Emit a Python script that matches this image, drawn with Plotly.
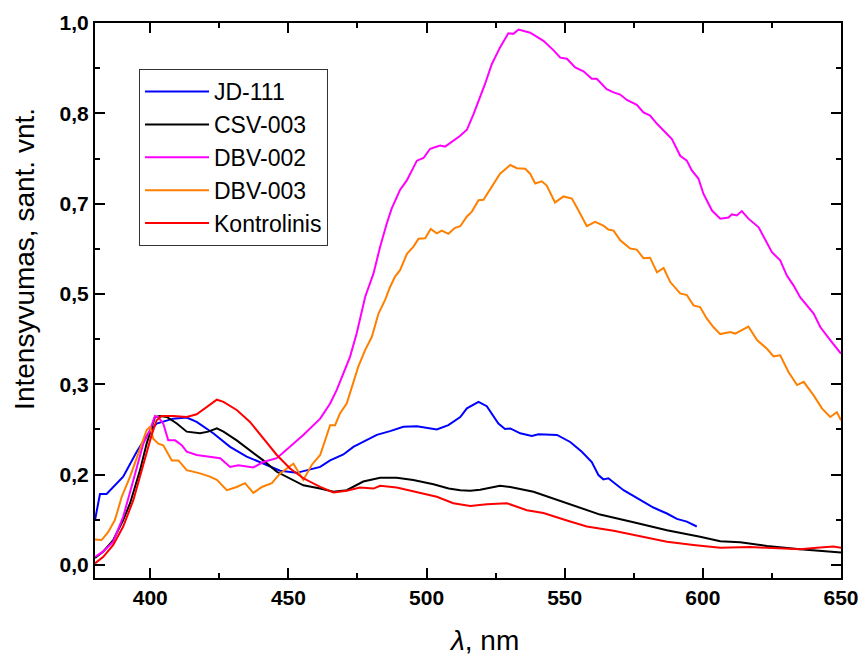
import plotly.graph_objects as go

# ---------------- data ----------------
jd111_x = [380, 381.8, 384.2, 390.2, 395.1, 399.3, 402.3, 408.3, 413.2, 416.8, 422.8, 428.9, 434.9,
           440.9, 447.0, 453.0, 461.5, 465.1, 469.9, 473.5, 477.1, 482.0, 486.8, 491.6, 496.5, 501.3,
           503.7, 507.9, 512.2, 514.6, 518.8, 521.8, 526.0, 528.4, 530.3, 533.9, 538.1, 540.5, 547.2,
           552.0, 556.2, 559.8, 562.2, 564.0, 565.8, 571.3, 577.3, 582.1, 587.0, 590.6, 594.2, 597.8]
jd111_y = [0.083, 0.131, 0.131, 0.163, 0.209, 0.243, 0.261, 0.270, 0.272, 0.264, 0.243, 0.218, 0.200,
           0.187, 0.174, 0.170, 0.181, 0.193, 0.204, 0.218, 0.227, 0.240, 0.247, 0.255, 0.256, 0.252,
           0.250, 0.258, 0.273, 0.289, 0.301, 0.293, 0.261, 0.251, 0.252, 0.243, 0.238, 0.241, 0.240,
           0.227, 0.209, 0.190, 0.166, 0.158, 0.160, 0.138, 0.120, 0.106, 0.095, 0.085, 0.080, 0.071]

csv003_x = [380, 383.0, 386.6, 390.2, 392.7, 396.3, 398.7, 401.7, 403.5, 406.0, 409.6, 413.2, 418.0,
            421.0, 424.1, 426.5, 431.3, 436.1, 440.9, 445.8, 450.6, 455.4, 461.5, 466.3, 471.1, 477.1,
            483.2, 489.2, 495.2, 502.5, 508.0, 512.2, 515.8, 519.4, 526.6, 530.3, 538.7, 547.2, 553.2,
            562.8, 574.9, 587.0, 599.0, 606.3, 613.5, 623.2, 635.2, 644.9, 650]
csv003_y = [0.013, 0.025, 0.046, 0.083, 0.114, 0.175, 0.224, 0.273, 0.275, 0.273, 0.261, 0.246, 0.243,
            0.246, 0.252, 0.246, 0.230, 0.212, 0.193, 0.172, 0.160, 0.147, 0.141, 0.135, 0.138, 0.154,
            0.161, 0.161, 0.157, 0.149, 0.141, 0.138, 0.137, 0.139, 0.146, 0.144, 0.135, 0.120, 0.109,
            0.093, 0.079, 0.064, 0.052, 0.044, 0.042, 0.035, 0.029, 0.025, 0.023]

dbv002_x = [380, 383.0, 386.6, 390.2, 393.9, 397.5, 399.9, 401.7, 402.9, 404.7, 406.5, 409.0, 411.4,
            413.2, 416.8, 421.6, 425.3, 428.9, 431.9, 437.3, 440.9, 445.8, 450.6, 455.4, 461.5, 465.1,
            467.5, 469.9, 472.3, 474.7, 477.8, 480.8, 483.2, 485.6, 487.4, 490.4, 492.9, 496.5, 498.9,
            501.3, 504.9, 506.7, 509.7, 512.2, 514.6, 517.0, 521.2, 523.6, 526.6, 529.6, 531.4, 533.3,
            537.5, 542.3, 545.9, 548.4, 550.8, 553.8, 556.8, 559.8, 561.6, 565.2, 567.7, 570.1, 572.5,
            576.1, 578.5, 580.9, 583.4, 587.0, 588.8, 591.8, 594.2, 596.0, 598.4, 600.2, 603.3, 606.3,
            609.3, 610.5, 612.3, 614.1, 616.5, 620.2, 622.6, 625.0, 628.0, 630.4, 632.8, 635.2, 640.1,
            642.5, 646.1, 650]
dbv002_y = [0.015, 0.025, 0.043, 0.089, 0.157, 0.224, 0.249, 0.275, 0.273, 0.261, 0.230, 0.230, 0.221,
            0.209, 0.203, 0.200, 0.197, 0.181, 0.184, 0.180, 0.190, 0.197, 0.218, 0.240, 0.270, 0.298,
            0.323, 0.353, 0.384, 0.427, 0.495, 0.538, 0.587, 0.630, 0.658, 0.692, 0.710, 0.746, 0.751,
            0.768, 0.774, 0.772, 0.783, 0.792, 0.803, 0.832, 0.888, 0.924, 0.955, 0.981, 0.980, 0.988,
            0.982, 0.967, 0.950, 0.936, 0.934, 0.918, 0.911, 0.897, 0.897, 0.878, 0.872, 0.868, 0.858,
            0.849, 0.835, 0.829, 0.814, 0.795, 0.786, 0.755, 0.746, 0.728, 0.713, 0.685, 0.654, 0.639,
            0.641, 0.647, 0.645, 0.653, 0.639, 0.623, 0.599, 0.577, 0.562, 0.534, 0.516, 0.494, 0.464,
            0.439, 0.415, 0.390]

dbv003_x = [380, 382.4, 384.8, 387.2, 389.7, 392.7, 395.7, 398.7, 399.9, 401.1, 402.9, 404.7, 407.8,
            410.2, 413.2, 418.0, 421.6, 424.1, 427.7, 431.3, 434.3, 437.3, 440.4, 444.0, 447.0, 451.8,
            455.4, 458.5, 461.5, 463.3, 465.1, 466.9, 468.7, 471.1, 473.5, 475.3, 477.8, 480.2, 482.6,
            485.0, 486.8, 488.6, 490.4, 492.9, 495.2, 497.1, 499.5, 501.5, 503.7, 505.5, 507.9, 510.3,
            512.2, 514.6, 516.4, 518.8, 520.6, 523.6, 526.6, 530.3, 532.7, 535.7, 537.5, 539.3, 541.7,
            543.5, 546.5, 549.6, 552.6, 555.0, 558.0, 561.0, 564.0, 565.8, 567.7, 570.1, 573.7, 576.1,
            578.5, 580.9, 583.4, 585.8, 588.2, 591.8, 594.2, 596.6, 599.0, 601.4, 603.8, 606.3, 609.9,
            611.7, 614.1, 616.5, 619.6, 623.2, 625.6, 628.0, 631.0, 634.1, 636.5, 640.1, 643.1, 646.1,
            648.5, 650]
dbv003_y = [0.047, 0.046, 0.061, 0.083, 0.126, 0.163, 0.206, 0.249, 0.255, 0.233, 0.224, 0.221, 0.193,
            0.193, 0.175, 0.169, 0.163, 0.157, 0.138, 0.144, 0.151, 0.133, 0.144, 0.151, 0.169, 0.187,
            0.157, 0.185, 0.203, 0.230, 0.258, 0.258, 0.280, 0.298, 0.335, 0.366, 0.397, 0.421, 0.464,
            0.489, 0.513, 0.532, 0.544, 0.574, 0.587, 0.602, 0.603, 0.620, 0.612, 0.617, 0.611, 0.622,
            0.625, 0.643, 0.652, 0.673, 0.674, 0.697, 0.722, 0.738, 0.732, 0.731, 0.722, 0.704, 0.708,
            0.700, 0.669, 0.680, 0.676, 0.654, 0.625, 0.633, 0.626, 0.619, 0.617, 0.599, 0.584, 0.582,
            0.566, 0.567, 0.540, 0.548, 0.522, 0.501, 0.498, 0.479, 0.476, 0.455, 0.439, 0.426, 0.430,
            0.427, 0.434, 0.440, 0.415, 0.399, 0.385, 0.387, 0.356, 0.332, 0.338, 0.313, 0.289, 0.273,
            0.282, 0.267]

kontr_x = [380, 383.0, 386.6, 390.2, 393.9, 397.5, 400.5, 402.3, 404.1, 408.3, 413.2, 416.8, 419.8,
           424.1, 426.5, 431.3, 436.1, 440.9, 445.8, 450.6, 455.4, 461.5, 466.3, 471.1, 475.9, 480.8,
           483.2, 489.2, 496.5, 503.7, 509.7, 515.8, 521.8, 529.1, 536.3, 542.3, 550.8, 558.0, 567.7,
           577.3, 587.0, 596.6, 606.3, 617.1, 629.2, 635.2, 641.3, 647.3, 650]
kontr_y = [0.003, 0.015, 0.037, 0.071, 0.120, 0.187, 0.240, 0.267, 0.275, 0.275, 0.273, 0.278, 0.289,
           0.305, 0.301, 0.286, 0.264, 0.233, 0.203, 0.178, 0.160, 0.144, 0.134, 0.137, 0.143, 0.141,
           0.146, 0.143, 0.135, 0.126, 0.114, 0.109, 0.112, 0.114, 0.101, 0.096, 0.082, 0.071, 0.063,
           0.053, 0.043, 0.037, 0.032, 0.033, 0.031, 0.029, 0.032, 0.034, 0.032]

series_names = ["JD-111", "CSV-003", "DBV-002", "DBV-003", "Kontrolinis"]
series_colors = ["#0000FF", "#000000", "#FF00FF", "#FF8000", "#FF0000"]

x_ticks = [400, 450, 500, 550, 600, 650]
y_tick_vals = [0, 1 / 6, 2 / 6, 3 / 6, 4 / 6, 5 / 6, 1.0]
y_tick_text = ["0,0", "0,2", "0,3", "0,5", "0,7", "0,8", "1,0"]
y_minor_vals = [1 / 12, 3 / 12, 5 / 12, 7 / 12, 9 / 12, 11 / 12]
x_minor_vals = [425, 475, 525, 575, 625]

# ---------------- figure ----------------
FONT = "Liberation Sans, Arial, sans-serif"
fig = go.Figure()
data = [(jd111_x, jd111_y), (csv003_x, csv003_y), (dbv002_x, dbv002_y),
        (dbv003_x, dbv003_y), (kontr_x, kontr_y)]
for (xs, ys), name, col in zip(data, series_names, series_colors):
    fig.add_trace(go.Scatter(x=xs, y=ys, mode="lines", name=name,
                             line=dict(color=col, width=2, shape="linear")))

axis_common = dict(showline=True, linewidth=2, linecolor="black", mirror="ticks",
                   ticks="inside", ticklen=10, tickwidth=2, tickcolor="black",
                   showgrid=False, zeroline=False, automargin=False,
                   tickfont=dict(family=FONT, size=21, color="black", weight="bold"))

fig.update_xaxes(range=[380, 650], tickvals=x_ticks, ticktext=[str(v) for v in x_ticks],
                 minor=dict(tickvals=x_minor_vals, ticks="inside", ticklen=5, tickwidth=2,
                            tickcolor="black", showgrid=False),
                 **axis_common)
fig.update_yaxes(range=[-0.024, 1.0], tickvals=y_tick_vals, ticktext=y_tick_text,
                 minor=dict(tickvals=y_minor_vals, ticks="inside", ticklen=5, tickwidth=2,
                            tickcolor="black", showgrid=False),
                 **axis_common)

fig.update_layout(
    width=864, height=659, autosize=False,
    margin=dict(l=95, r=23, t=23, b=81, autoexpand=False),
    paper_bgcolor="white", plot_bgcolor="white",
    font=dict(family=FONT, color="black"),
    showlegend=True,
    legend=dict(x=0.059, y=0.917, xanchor="left", yanchor="top",
                bordercolor="#333333", borderwidth=1, bgcolor="white",
                font=dict(family=FONT, size=23, color="black"),
                itemwidth=64, tracegroupgap=0),
    annotations=[
        dict(text="Intensyvumas, sant. vnt.", xref="paper", yref="paper",
             x=-0.0938, y=0.575, xanchor="center", yanchor="middle", textangle=-90,
             showarrow=False, font=dict(family=FONT, size=28, color="black")),
        dict(text="<i>λ</i>, nm", xref="paper", yref="paper",
             x=0.521, y=-0.1135, xanchor="center", yanchor="middle",
             showarrow=False, font=dict(family=FONT, size=28, color="black")),
    ],
)

# remove the browser's default 8 px body margin so the figure fills the window exactly
fig.write_html("out.html", config={"displayModeBar": False},
               post_script="document.body.style.margin='0';document.body.style.overflow='hidden';")
